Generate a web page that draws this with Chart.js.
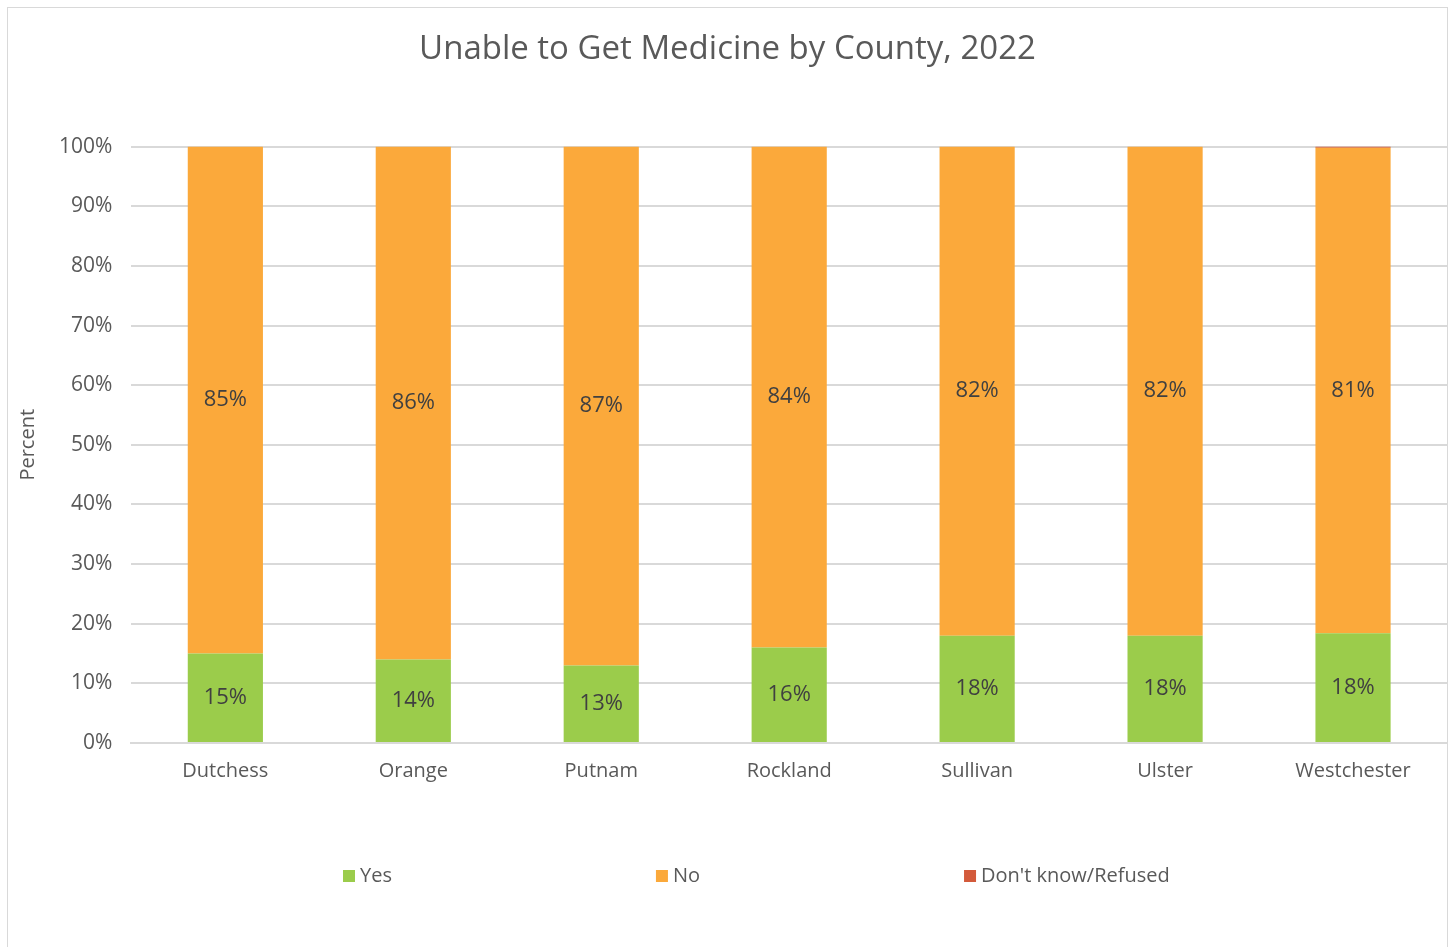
<!DOCTYPE html>
<html>
<head>
<meta charset="utf-8">
<script src="https://cdn.jsdelivr.net/npm/chart.js@4.4.0/dist/chart.umd.min.js"></script>
<style>
  body { margin: 0; background: #fff; }
  #box {
    position: absolute; left: 7px; top: 7px;
    width: 1439px; height: 950px;
    border: 1px solid #d9d9d9; background: #fff;
  }
</style>
</head>
<body>
<div id="box"><canvas id="chart"></canvas></div>
<script>
"use strict";

// data
const counties = ["Dutchess", "Orange", "Putnam", "Rockland", "Sullivan", "Ulster", "Westchester"];
const yesValues = [15, 14, 13, 16, 18, 18, 18.4];
const noValues = [85, 86, 87, 84, 82, 82, 81.4];
const dontKnowValues = [0, 0, 0, 0, 0, 0, 0.2];
const yTicks = [0, 10, 20, 30, 40, 50, 60, 70, 80, 90, 100];

const fontFamily = "'Open Sans', 'DejaVu Sans', sans-serif";

// write the percent in the middle of each bar piece
const barLabels = {
  id: "barLabels",
  afterDatasetsDraw(chart) {
    const ctx = chart.ctx;
    ctx.save();
    ctx.font = "22px " + fontFamily;
    ctx.fillStyle = "#404040";
    ctx.textAlign = "center";
    ctx.textBaseline = "middle";
    chart.data.datasets.forEach(function (ds, i) {
      if (!ds.showLabels) return;
      const meta = chart.getDatasetMeta(i);
      meta.data.forEach(function (bar, j) {
        const mid = (bar.y + bar.base) / 2;
        ctx.fillText(Math.round(ds.data[j]) + "%", bar.x, mid);
      });
    });
    ctx.restore();
  }
};

// legend drawn by hand, the built-in one pads the same both ways
const spreadLegend = {
  id: "spreadLegend",
  afterDraw(chart) {
    const ctx = chart.ctx;
    const gap = 264;
    const box = 12;
    let x = 335;
    const y = 868;
    ctx.save();
    ctx.font = "20px " + fontFamily;
    ctx.textBaseline = "middle";
    chart.data.datasets.forEach(function (ds) {
      ctx.fillStyle = ds.backgroundColor;
      ctx.fillRect(x, y - box / 2, box, box);
      ctx.fillStyle = "#595959";
      ctx.fillText(ds.label, x + box + 5, y);
      x += box + 5 + ctx.measureText(ds.label).width + gap;
    });
    ctx.restore();
  }
};

const data = {
  labels: counties,
  datasets: [
    {
      label: "Yes",
      data: yesValues,
      backgroundColor: "#9bcc4b",
      showLabels: true,
    },
    {
      label: "No",
      data: noValues,
      backgroundColor: "#fba93b",
      showLabels: true,
    },
    {
      label: "Don't know/Refused",
      data: dontKnowValues,
      backgroundColor: "#d35a3b",
      showLabels: false,
    },
  ],
};

const config = {
  type: "bar",
  data: data,
  plugins: [barLabels, spreadLegend],
  options: {
    responsive: true,
    maintainAspectRatio: false,
    animation: false,
    barPercentage: 0.4,
    categoryPercentage: 1,
    layout: { padding: { left: 0, right: 0, top: 0, bottom: 159 } },
    plugins: {
      title: {
        display: true,
        text: "Unable to Get Medicine by County, 2022",
        color: "#595959",
        font: { size: 33, family: fontFamily, weight: "normal" },
        padding: { top: 22, bottom: 77 },
      },
      legend: { display: false },
      tooltip: { enabled: false },
    },
    scales: {
      x: {
        stacked: true,
        grid: { display: false, drawTicks: false },
        border: { color: "#d9d9d9", width: 2 },
        ticks: {
          color: "#595959",
          font: { size: 20, family: fontFamily },
          padding: 16,
        },
      },
      y: {
        stacked: true,
        min: 0,
        max: 100,
        afterBuildTicks(axis) {
          axis.ticks = yTicks.map(function (v) { return { value: v }; });
        },
        grid: { color: "#d9d9d9", lineWidth: 2, drawTicks: false },
        border: { display: false },
        ticks: {
          color: "#595959",
          font: { size: 21, family: fontFamily },
          padding: 19,
          callback: function (v) { return v + "%"; },
        },
        title: {
          display: true,
          text: "Percent",
          color: "#595959",
          font: { size: 20, family: fontFamily },
          padding: { top: 8, bottom: 0 },
        },
      },
    },
  },
};

const myChart = new Chart(document.getElementById("chart"), config);
</script>
</body>
</html>
